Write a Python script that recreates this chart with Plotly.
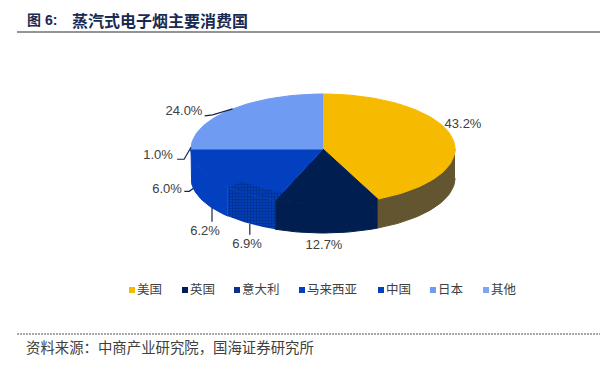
import math
from itertools import groupby
import plotly.graph_objects as go

categories = ["美国", "英国", "意大利", "马来西亚", "中国", "日本", "其他"]
shares = [43.2, 12.7, 6.9, 6.2, 6.0, 1.0, 24.0]
top_colors = ["#F6BB00", "#001E50", "#0340C0", "#0340C0", "#0340C0", "#6F9BF2", "#6F9BF2"]
side_colors = ["#62552F", "#001E50", "#0A2F90", "#0340C0", "#0340C0", "#6F9BF2", "#6F9BF2"]
swatch_colors = ["#F6BB00", "#001E50", "#0A2F90", "#0340C0", "#0340C0", "#6F9BF2", "#7FA4F5"]
label_texts = ["43.2%", "12.7%", "6.9%", "6.2%", "6.0%", "1.0%", "24.0%"]
title_prefix = "图 6:"
title_text = "蒸汽式电子烟主要消费国"
source_text = "资料来源\uff1a中商产业研究院\uff0c国海证券研究所"

W, H = 600, 374
CX, CY, RX, RY, DEPTH = 323, 149, 132, 55, 29
label_pos = [(463, 125), (324, 246), (247, 245), (205, 232), (167, 190), (158, 156), (184, 112)]
legend_swatch_x = [132, 185, 237, 302, 381, 433, 486]
LEGEND_Y = 290


def pt(pct, dy=0, f=1.0):
    a = 2 * math.pi * pct / 100
    return CX + f * RX * math.sin(a), CY - f * RY * math.cos(a) + dy


def arc(p0, p1, dy=0, f=1.0):
    n = max(2, int(abs(p1 - p0) * 2))
    return [pt(p0 + (p1 - p0) * i / n, dy, f) for i in range(n + 1)]


fig = go.Figure()

cum = [0]
for s in shares:
    cum.append(cum[-1] + s)


def add_poly(points, color, pattern=None, lw=1):
    xs, ys = zip(*points)
    fig.add_trace(go.Scatter(
        x=list(xs), y=list(ys), mode="lines", fill="toself", fillcolor=color,
        line=dict(color=color, width=lw), hoverinfo="skip", showlegend=False,
        fillpattern=pattern))


def runs(colors):
    """Index ranges of neighbouring slices sharing a colour, drawn as one seamless shape."""
    for color, grp in groupby(enumerate(colors), key=lambda t: t[1]):
        idx = [g[0] for g in grp]
        yield color, idx[0], idx[-1] + 1


DITHER = dict(shape=".", bgcolor="#0340C0", fgcolor="#001E50", size=3, solidity=0.45)

# side walls: only the front half (25% .. 75%) is visible
for color, i0, i1 in runs(side_colors):
    a, b = max(cum[i0], 25), min(cum[i1], 75)
    if b <= a:
        continue
    wall = arc(a, b) + arc(b, a, DEPTH)
    dithered = color == "#0A2F90"
    add_poly(wall, color, DITHER if dithered else None, lw=0 if dithered else 1)

# top faces
for color, i0, i1 in runs(top_colors):
    add_poly([(CX, CY)] + arc(cum[i0], cum[i1]), color)

# dithered band along the rim of the third slice
add_poly(arc(cum[2], cum[3], 0, 0.85) + arc(cum[3], cum[2]), "#0340C0", DITHER, lw=0)

# leader lines, from the middle of each small slice's rim
leader_offsets = {2: [(0, 11)], 3: [(0, 14)], 4: [(-4, 3), (-9, 3)], 5: [(-7, 12), (-14, 12)], 6: [(-20, 6), (-28, 7)]}
for i, offs in leader_offsets.items():
    mid = (cum[i] + cum[i + 1]) / 2
    dy = DEPTH if 25 < mid < 74 else 0
    x0, y0 = pt(mid, dy)
    xs = [x0] + [x0 + o[0] for o in offs]
    ys = [y0] + [y0 + o[1] for o in offs]
    fig.add_trace(go.Scatter(x=xs, y=ys, mode="lines", line=dict(color="#10244F", width=1.2),
                             hoverinfo="skip", showlegend=False))

# value labels
fig.add_trace(go.Scatter(
    x=[p[0] for p in label_pos], y=[p[1] for p in label_pos], text=label_texts,
    mode="text", textposition="middle center",
    textfont=dict(family="Liberation Sans, Arial", size=13, color="#404040"),
    hoverinfo="skip", showlegend=False))

# legend swatches and names
fig.add_trace(go.Scatter(
    x=legend_swatch_x, y=[LEGEND_Y] * len(categories), mode="markers",
    marker=dict(symbol="square", size=6, color=swatch_colors),
    hoverinfo="skip", showlegend=False))
fig.add_trace(go.Scatter(
    x=[x + 5 for x in legend_swatch_x], y=[LEGEND_Y + 1] * len(categories), text=categories,
    mode="text", textposition="middle right",
    textfont=dict(family="Noto Sans CJK SC", size=12.5, color="#404040"),
    hoverinfo="skip", showlegend=False))

# header and footer
fig.add_shape(type="line", x0=17, x1=600, y0=32, y1=32, line=dict(color="#707070", width=1.5))
fig.add_shape(type="line", x0=17, x1=600, y0=334, y1=334, line=dict(color="#505050", width=1.2, dash="2px,1px"))
fig.add_annotation(x=25, y=20, xanchor="left", yanchor="middle", showarrow=False,
                   text=f"<b>{title_prefix}</b>", font=dict(family="Liberation Sans, Noto Sans CJK SC", size=14, color="#1B2A50"))
fig.add_annotation(x=70, y=20, xanchor="left", yanchor="middle", showarrow=False,
                   text=f"<b>{title_text}</b>", font=dict(family="Noto Sans CJK SC", size=16, color="#1B2A50"))
fig.add_annotation(x=24, y=346, xanchor="left", yanchor="middle", showarrow=False,
                   text=source_text,
                   font=dict(family="Noto Sans CJK SC", size=14.4, color="#404040"))

fig.update_layout(
    width=W, height=H, margin=dict(l=0, r=0, t=0, b=0),
    paper_bgcolor="white", plot_bgcolor="white", showlegend=False,
    xaxis=dict(range=[0, W], visible=False, fixedrange=True),
    yaxis=dict(range=[H, 0], visible=False, fixedrange=True),
)
fig.write_html("out.html", config=dict(displayModeBar=False),
               post_script="document.body.style.margin='0';document.body.style.overflow='hidden';")
